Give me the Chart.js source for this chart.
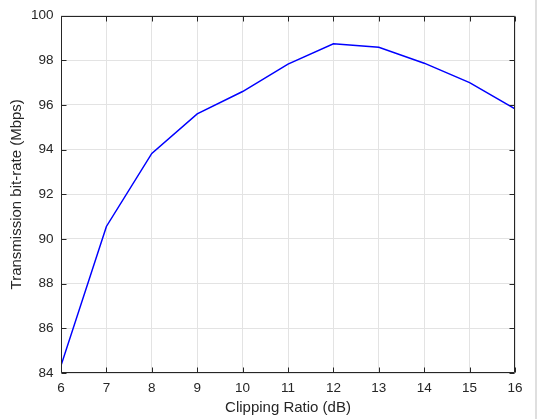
<!DOCTYPE html>
<html>
<head>
<meta charset="utf-8">
<script src="https://cdn.jsdelivr.net/npm/chart.js@4"></script>
<style>
html,body{margin:0;padding:0;background:#fff;}
#wrap{width:538px;height:419px;position:relative;}
</style>
</head>
<body>
<div id="wrap"><canvas id="c"></canvas></div>
<script>
// clipping ratio (dB) vs transmission bit-rate (Mbps)
const clipRatio = [6, 7, 8, 9, 10, 11, 12, 13, 14, 15, 16];
const bitRate = [84.33, 90.56, 93.83, 95.6, 96.6, 97.83, 98.74, 98.58, 97.87, 97.0, 95.82];
const xTicks = [6, 7, 8, 9, 10, 11, 12, 13, 14, 15, 16];
const yTicks = [84, 86, 88, 90, 92, 94, 96, 98, 100];

const axisCol = "#262626";
const gridCol = "#e3e3e3";
const fontFam = "'Liberation Sans', Arial, Helvetica, sans-serif";

// box + inward ticks, matlab style
const boxPlugin = {
    id: "box",
    afterDraw(chart){
        const ctx = chart.ctx;
        const a = chart.chartArea;
        const xs = chart.scales.x, ys = chart.scales.y;
        const L = Math.round(a.left)+0.5, R = Math.round(a.right)-0.5;
        const T = Math.round(a.top)+0.5, B = Math.round(a.bottom)-0.5;
        ctx.save();
        ctx.strokeStyle = axisCol;
        ctx.lineWidth = 1;
        ctx.beginPath();
        ctx.rect(L, T, R-L, B-T);
        xTicks.forEach(v=>{
            const px = Math.round(xs.getPixelForValue(v))+0.5;
            ctx.moveTo(px, B); ctx.lineTo(px, B-5);
            ctx.moveTo(px, T); ctx.lineTo(px, T+5);
        });
        yTicks.forEach(v=>{
            const py = Math.round(ys.getPixelForValue(v))+0.5;
            ctx.moveTo(L, py); ctx.lineTo(L+5, py);
            ctx.moveTo(R, py); ctx.lineTo(R-5, py);
        });
        ctx.stroke();
        // figure edge line on the right
        ctx.strokeStyle = "#d4d4d4";
        ctx.lineWidth = 1.5;
        ctx.beginPath();
        ctx.moveTo(536, 0); ctx.lineTo(536, chart.height);
        ctx.stroke();
        ctx.restore();
    }
};

new Chart(document.getElementById("c"), {
    type: "line",
    data: {
        datasets: [{
            data: clipRatio.map((x,i)=>({x:x, y:bitRate[i]})),
            borderColor: "#0000ff",
            borderWidth: 1.5,
            pointRadius: 0,
            tension: 0,
            fill: false
        }]
    },
    options: {
        responsive: true,
        maintainAspectRatio: false,
        animation: false,
        layout: { padding: { top: 13, right: 23, bottom: 0, left: 0 } },
        plugins: { legend: { display: false }, tooltip: { enabled: false } },
        scales: {
            x: {
                type: "linear", min: 6, max: 16,
                afterBuildTicks: s=>{ s.ticks = xTicks.map(v=>({value:v})); },
                afterFit: s=>{ s.height = 46; },
                grid: { color: gridCol, drawTicks: false },
                border: { display: false },
                ticks: { color: axisCol, padding: 7.5, font: { family: fontFam, size: 13.5 }, maxRotation: 0 },
                title: { display: true, text: "Clipping Ratio (dB)", color: axisCol,
                         font: { family: fontFam, size: 15 }, padding: { top: 0, bottom: 2.3 } }
            },
            y: {
                type: "linear", min: 84, max: 100,
                afterBuildTicks: s=>{ s.ticks = yTicks.map(v=>({value:v})); },
                afterFit: s=>{ s.width = 61; },
                grid: { color: gridCol, drawTicks: false },
                border: { display: false },
                ticks: { color: axisCol, padding: 7.5, font: { family: fontFam, size: 13.5 } },
                title: { display: true, text: "Transmission bit-rate (Mbps)", color: axisCol,
                         font: { family: fontFam, size: 15 }, padding: { top: 7.7, bottom: 0 } }
            }
        }
    },
    plugins: [boxPlugin]
});
</script>
</body>
</html>
